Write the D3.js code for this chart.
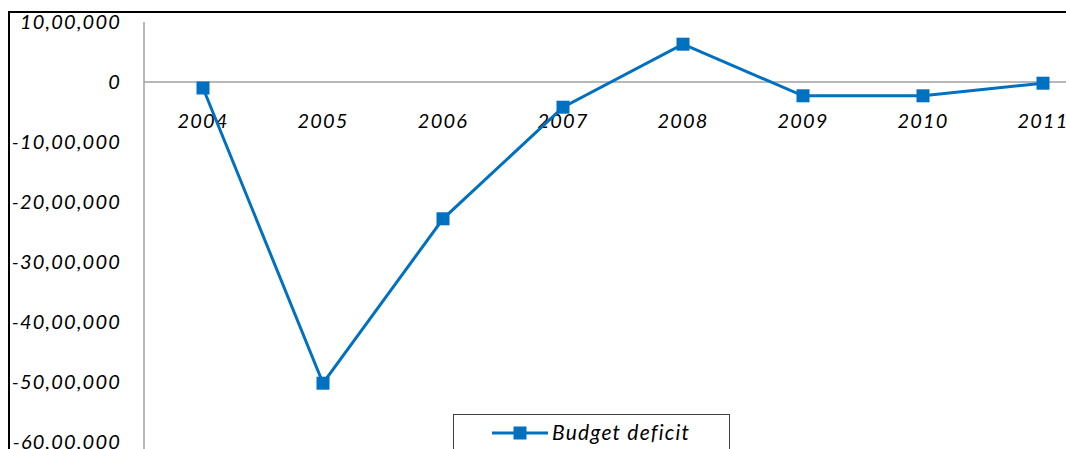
<!DOCTYPE html>
<html>
<head>
<meta charset="utf-8">
<script src="https://cdn.jsdelivr.net/npm/d3@7"></script>
<style>
  html, body { margin: 0; padding: 0; background: #fff; overflow: hidden; }
  svg { display: block; }
  text { font-family: "Lato", "Open Sans", sans-serif; font-style: italic; fill: #000; letter-spacing: 1.2px; }
</style>
</head>
<body>
<svg id="chart" width="1066" height="449"></svg>
<script>
// Budget deficit by year
const years = ["2004", "2005", "2006", "2007", "2008", "2009", "2010", "2011"];
const deficit = [-100000, -5020000, -2280000, -420000, 630000, -230000, -230000, -20000];
const yTicks = [1000000, 0, -1000000, -2000000, -3000000, -4000000, -5000000, -6000000];
const seriesName = "Budget deficit";

const svg = d3.select("#chart");
const W = 1066, H = 449;
const left = 144, plotTop = 22, plotBottom = 442;
const color = "#0070C0";

// Indian digit grouping: 10,00,000
function indianFormat(v) {
  const neg = v < 0;
  let s = String(Math.abs(v));
  if (s.length > 3) {
    const last3 = s.slice(-3);
    let rest = s.slice(0, -3);
    const parts = [];
    while (rest.length > 2) { parts.unshift(rest.slice(-2)); rest = rest.slice(0, -2); }
    if (rest.length) parts.unshift(rest);
    s = parts.join(",") + "," + last3;
  }
  return (neg ? "-" : "") + s;
}

const x = d3.scaleBand().domain(years).range([left, left + 120 * years.length]);
const y = d3.scaleLinear().domain([-6000000, 1000000]).range([plotBottom, plotTop]);

// outer frame (top and left edges)
svg.append("line").attr("x1", 8).attr("x2", W).attr("y1", 12).attr("y2", 12)
  .attr("stroke", "#000").attr("stroke-width", 2);
svg.append("line").attr("x1", 9).attr("x2", 9).attr("y1", 11).attr("y2", H)
  .attr("stroke", "#000").attr("stroke-width", 2);

// vertical value axis
svg.append("line").attr("x1", left).attr("x2", left).attr("y1", plotTop).attr("y2", H)
  .attr("stroke", "#a0a0a0").attr("stroke-width", 1.5);

// zero baseline
svg.append("line").attr("x1", left).attr("x2", W).attr("y1", y(0)).attr("y2", y(0))
  .attr("stroke", "#a0a0a0").attr("stroke-width", 1.5);

// y tick labels
svg.append("g").selectAll("text").data(yTicks).join("text")
  .attr("x", 121).attr("y", d => y(d)).attr("dy", "0.35em")
  .attr("text-anchor", "end").attr("font-size", 20)
  .text(d => indianFormat(d));

// category labels below the zero line
svg.append("g").selectAll("text").data(years).join("text")
  .attr("x", d => x(d) + x.bandwidth() / 2 - 1).attr("y", y(0) + 46)
  .attr("text-anchor", "middle").attr("font-size", 20)
  .text(d => d);

// series line
const pts = years.map((yr, i) => [x(yr) + x.bandwidth() / 2 - 1, y(deficit[i])]);
svg.append("path").attr("d", d3.line()(pts))
  .attr("fill", "none").attr("stroke", color).attr("stroke-width", 3);

// square markers
const m = 13;
svg.append("g").selectAll("rect").data(pts).join("rect")
  .attr("x", d => d[0] - m / 2).attr("y", d => d[1] - m / 2)
  .attr("width", m).attr("height", m).attr("fill", color);

// legend
const lg = svg.append("g");
lg.append("rect").attr("x", 453.5).attr("y", 414.5).attr("width", 276).attr("height", 50)
  .attr("fill", "#fff").attr("stroke", "#404040").attr("stroke-width", 1);
lg.append("line").attr("x1", 492).attr("x2", 548).attr("y1", 433).attr("y2", 433)
  .attr("stroke", color).attr("stroke-width", 3);
lg.append("rect").attr("x", 520 - m / 2).attr("y", 433 - m / 2).attr("width", m).attr("height", m)
  .attr("fill", color);
lg.append("text").attr("x", 552).attr("y", 433).attr("dy", "0.35em")
  .attr("font-size", 21).text(seriesName);
</script>
</body>
</html>
